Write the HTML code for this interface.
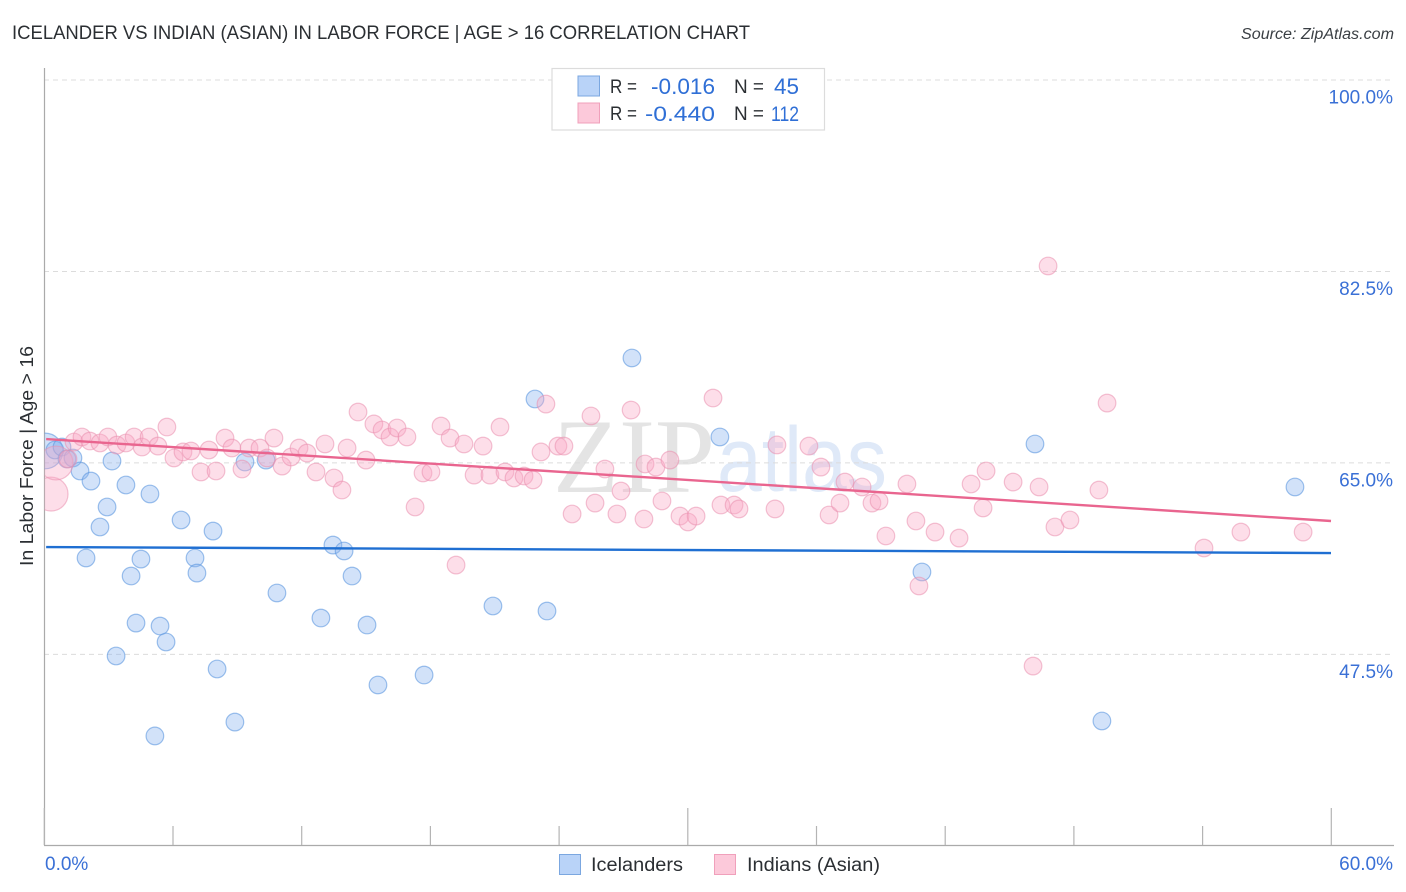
<!DOCTYPE html>
<html lang="en">
<head>
<meta charset="utf-8">
<title>Icelander vs Indian (Asian) in Labor Force | Age &gt; 16 Correlation Chart</title>
<style>
html,body{margin:0;padding:0;background:#fff;}
body{width:1406px;height:892px;overflow:hidden;font-family:"Liberation Sans",sans-serif;}
svg{display:block;}
text{font-family:"Liberation Sans",sans-serif;}
</style>
</head>
<body>
<svg id="chart" xmlns="http://www.w3.org/2000/svg" width="1406" height="892" viewBox="0 0 1406 892">
  <defs>
    <clipPath id="plot-clip"><rect x="44.5" y="60" width="1350" height="785"/></clipPath>
  </defs>
  <text x="12" y="39" font-size="19" fill="#2b2f33" textLength="738" lengthAdjust="spacingAndGlyphs">ICELANDER VS INDIAN (ASIAN) IN LABOR FORCE | AGE &gt; 16 CORRELATION CHART</text>
  <text x="1241" y="39" font-size="15.5" font-style="italic" fill="#3a3f44" textLength="153" lengthAdjust="spacingAndGlyphs">Source: ZipAtlas.com</text>

  <g>
    <text x="553" y="492" font-size="106" style="font-family:'Liberation Serif',serif" fill="#e4e4e4" textLength="162" lengthAdjust="spacingAndGlyphs">ZIP</text>
    <text x="717" y="491" font-size="92" fill="#dfe9f8" textLength="170" lengthAdjust="spacingAndGlyphs">atlas</text>
  </g>

  <g id="grid"></g>
  <g id="axes"></g>
  <g id="marks-blue" clip-path="url(#plot-clip)"></g>
  <g id="marks-pink" clip-path="url(#plot-clip)"></g>
  <g id="trends"></g>
  <g id="labels"></g>

  <text transform="translate(33,456) rotate(-90)" font-size="18.5" fill="#2b2f33" text-anchor="middle" textLength="220" lengthAdjust="spacingAndGlyphs">In Labor Force | Age &gt; 16</text>

  <g>
    <rect x="552" y="68.5" width="272.5" height="61.5" fill="#fff" stroke="#dcdcdc" stroke-width="1.2"/>
    <rect x="578" y="76" width="21.5" height="20" fill="#b9d3f8" stroke="#7ba7e0" stroke-width="1"/>
    <rect x="578" y="103" width="21.5" height="20" fill="#fcc9da" stroke="#f0a0bb" stroke-width="1"/>
    <text x="610" y="93" font-size="19" fill="#2b2f33" textLength="27" lengthAdjust="spacingAndGlyphs">R =</text>
    <text x="651" y="94" font-size="22" fill="#2f6fd6" textLength="64" lengthAdjust="spacingAndGlyphs">-0.016</text>
    <text x="734" y="93" font-size="19" fill="#2b2f33" textLength="30" lengthAdjust="spacingAndGlyphs">N =</text>
    <text x="774" y="94" font-size="22" fill="#2f6fd6" textLength="25" lengthAdjust="spacingAndGlyphs">45</text>
    <text x="610" y="120" font-size="19" fill="#2b2f33" textLength="27" lengthAdjust="spacingAndGlyphs">R =</text>
    <text x="645" y="121" font-size="21" fill="#2f6fd6" textLength="70" lengthAdjust="spacingAndGlyphs">-0.440</text>
    <text x="734" y="120" font-size="19" fill="#2b2f33" textLength="30" lengthAdjust="spacingAndGlyphs">N =</text>
    <text x="771" y="121" font-size="21" fill="#2f6fd6" textLength="28" lengthAdjust="spacingAndGlyphs">112</text>
  </g>

  <g>
    <rect x="559.5" y="854.5" width="21" height="20" fill="#b9d3f8" stroke="#7ba7e0" stroke-width="1"/>
    <text x="591" y="871" font-size="19" fill="#2b2f33" textLength="92" lengthAdjust="spacingAndGlyphs">Icelanders</text>
    <rect x="714.5" y="854.5" width="21" height="20" fill="#fcc9da" stroke="#f0a0bb" stroke-width="1"/>
    <text x="747" y="871" font-size="19" fill="#2b2f33" textLength="133" lengthAdjust="spacingAndGlyphs">Indians (Asian)</text>
  </g>
</svg>
<script>
const xTicks = [0, 6, 12, 18, 24, 30, 36, 42, 48, 54, 60];
const xMajorTicks = [0, 30, 60];
const xTickLabels = ["0.0%", "60.0%"];
const yTicks = [100, 82.5, 65, 47.5];
const yTickLabels = ["100.0%", "82.5%", "65.0%", "47.5%"];

const icelanderX = [0.05,0.51,0.84,1.07,1.35,1.68,2.19,3.17,3.82,4.94,2.94,2.61,6.39,7.88,1.96,4.52,7.04,7.13,4.06,4.29,5.41,5.69,3.36,5.17,8.07,8.90,9.37,10.35,10.86,12.91,13.47,13.99,14.36,15.06,15.57,17.72,20.93,23.45,22.89,27.41,31.51,40.93,46.20,49.32,58.32];
const icelanderY = [66.09,66.18,66.45,65.36,65.45,64.26,63.34,65.17,62.98,62.16,60.97,59.14,59.78,58.77,56.31,56.21,56.31,54.93,54.66,50.36,50.09,48.63,47.35,40.04,46.16,41.31,65.08,65.26,53.11,50.82,57.49,56.95,54.66,50.18,44.70,45.61,51.92,51.46,70.84,74.59,67.37,55.03,66.73,41.41,62.80];
const icelanderWeight = [4.1,1,1,1,1,1,1,1,1,1,1,1,1,1,1,1,1,1,1,1,1,1,1,1,1,1,1,1,1,1,1,1,1,1,1,1,1,1,1,1,1,1,1,1,1];

const indianX = [0.33,0.56,1.12,1.40,1.77,2.14,2.61,2.98,3.40,3.82,4.20,4.57,4.90,5.31,5.73,6.06,6.48,6.85,7.32,7.69,8.02,8.44,8.76,9.23,9.56,10.07,10.40,10.72,11.10,11.52,11.89,12.26,12.68,13.10,13.52,13.89,14.13,14.64,15.01,15.38,15.76,16.13,16.46,16.92,17.30,17.67,18.04,18.51,18.93,19.21,19.58,20.05,20.47,20.79,21.26,21.49,21.91,22.38,22.80,23.17,23.40,23.96,24.24,24.62,25.50,25.69,26.15,26.71,26.90,27.37,27.97,28.02,28.53,28.81,29.18,29.65,30.02,30.40,31.19,31.56,32.17,32.40,34.08,34.17,35.66,36.22,36.60,37.11,37.34,38.14,38.60,38.93,39.25,40.23,40.65,40.79,41.54,42.66,43.22,43.78,43.92,45.18,46.11,46.39,46.81,47.13,47.83,49.18,49.56,54.08,55.80,58.70];
const indianY = [62.15,64.99,65.36,66.91,67.37,67.00,66.82,67.37,66.63,66.82,67.37,66.45,67.37,66.54,68.28,65.45,66.00,66.09,64.17,66.18,64.26,67.27,66.36,64.44,66.36,66.36,65.45,67.27,64.71,65.54,66.36,65.90,64.17,66.73,63.62,62.52,66.36,69.65,65.26,68.56,68.01,67.37,68.19,67.37,60.97,64.08,64.17,68.37,67.27,55.66,66.73,63.89,66.54,63.89,68.28,64.17,63.62,63.80,63.44,66.00,70.38,66.54,66.54,60.33,69.29,61.33,64.44,60.33,62.43,69.83,59.87,64.90,64.62,61.52,65.26,60.14,59.60,60.14,70.93,61.15,61.15,60.79,60.79,66.64,66.54,64.62,60.24,61.33,63.25,62.80,61.33,61.52,58.32,63.07,59.69,53.75,58.68,58.13,63.07,60.88,64.26,63.25,46.43,62.80,83.00,59.14,59.78,62.52,70.47,57.22,58.68,58.68];
const indianWeight = [3.7,3.7].concat(new Array(110).fill(1));

const trendX = [0.1, 60];
const icelanderTrendY = [57.31, 56.76];
const indianTrendY = [67.18, 59.69];

const NS = 'http://www.w3.org/2000/svg';
function xScale(v) { return 44 + v * (1287 / 60); }
function yScale(v) { return 80 + (100 - v) * 10.94; }
function radius(w) { return 8.8 * Math.sqrt(w); }
function make(tag, attrs, parent) {
  const el = document.createElementNS(NS, tag);
  for (const k in attrs) el.setAttribute(k, attrs[k]);
  parent.appendChild(el);
  return el;
}

const grid = document.getElementById('grid');
yTicks.forEach(function (t) {
  const line = make('line', { x1: 44, x2: 1393, y1: yScale(t), y2: yScale(t), stroke: '#dcdcdc', 'stroke-width': 1, 'stroke-dasharray': '5 4' }, grid);
  
  
});

const axes = document.getElementById('axes');
const yAxis = make('line', { x1: 44.5, x2: 44.5, y1: 68, y2: 845.5, stroke: '#aaaaaa', 'stroke-width': 1.2 }, axes);


const xAxis = make('line', { x1: 44, x2: 1394, y1: 845.5, y2: 845.5, stroke: '#aaaaaa', 'stroke-width': 1.2 }, axes);


xTicks.forEach(function (t) {
  const major = xMajorTicks.indexOf(t) >= 0;
  const tick = make('line', { x1: xScale(t) + 0.3, x2: xScale(t) + 0.3, y1: major ? 808 : 826, y2: 845, stroke: '#b4b4b4', 'stroke-width': 1.2 }, axes);
  
  
});

function drawSeries(groupId, xs, ys, ws, fill, stroke, strokeOpacity, name) {
  const g = document.getElementById(groupId);
  xs.forEach(function (x, i) {
    const c = make('circle', { cx: xScale(x), cy: yScale(ys[i]), r: radius(ws[i]), fill: fill, 'fill-opacity': 0.38, stroke: stroke, 'stroke-opacity': strokeOpacity, 'stroke-width': 1.2 }, g);
    
    
  });
}
drawSeries('marks-blue', icelanderX, icelanderY, icelanderWeight, '#8ab4f0', '#5d97e0', 0.6, 'icelander-point');
drawSeries('marks-pink', indianX, indianY, indianWeight, '#f9a8c4', '#ea8fae', 0.55, 'indian-point');

const trends = document.getElementById('trends');
const blueTrend = make('line', { x1: xScale(trendX[0]), x2: xScale(trendX[1]), y1: yScale(icelanderTrendY[0]), y2: yScale(icelanderTrendY[1]), stroke: '#1f6fd2', 'stroke-width': 2.4 }, trends);


const pinkTrend = make('line', { x1: xScale(trendX[0]), x2: xScale(trendX[1]), y1: yScale(indianTrendY[0]), y2: yScale(indianTrendY[1]), stroke: '#e9658f', 'stroke-width': 2.4 }, trends);



const labels = document.getElementById('labels');
yTicks.forEach(function (t, i) {
  const lab = make('text', { x: 1393, y: yScale(t) + 23.5, 'font-size': 19, fill: '#3a70d6', 'text-anchor': 'end' }, labels);
  lab.textContent = yTickLabels[i];
  
  
});
const x0 = make('text', { x: 45, y: 870, 'font-size': 19, fill: '#3a70d6' }, labels);
x0.textContent = xTickLabels[0];


const x1 = make('text', { x: 1393, y: 870, 'font-size': 19, fill: '#3a70d6', 'text-anchor': 'end' }, labels);
x1.textContent = xTickLabels[1];


</script>
</body>
</html>
